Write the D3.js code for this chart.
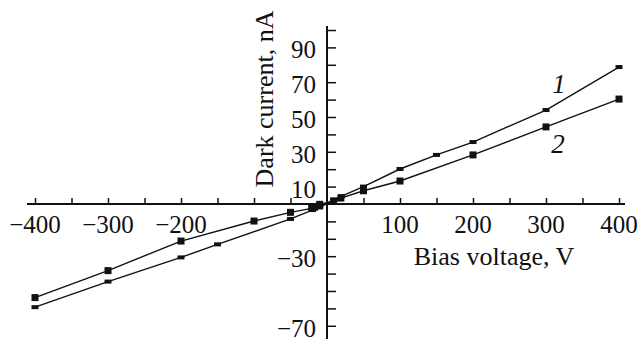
<!DOCTYPE html>
<html>
<head>
<meta charset="utf-8">
<script src="https://cdn.jsdelivr.net/npm/d3@7"></script>
<style>
  body { margin: 0; background: #fff; }
  text { font-family: "Liberation Serif", "Times New Roman", serif; fill: #111; }
</style>
</head>
<body>
<div id="chartContainer"></div>
<script>
// curve 1 (small markers)
var volt1 = [-400, -300, -200, -150, -50, -20, -10, 10, 20, 50, 100, 150, 200, 300, 400]
var cur1  = [-59.3, -44.6, -30.7, -23.2, -8.6, -3.5, -2, 2.5, 4.5, 10, 20.1, 28.2, 35.6, 54, 78.7]
// curve 2 (big markers)
var volt2 = [-400, -300, -200, -100, -50, -21, -17, -10, 9, 19, 50, 100, 200, 300, 400]
var cur2  = [-53.8, -38.3, -21.3, -9.8, -4.8, -2.5, -1.9, -0.2, 1.7, 3.4, 7.6, 13.2, 28.2, 44.3, 60.3]

var xTickLabels = [-400, -300, -200, 100, 200, 300, 400]
var yTickLabels = [90, 70, 50, 30, 10, -30, -70]

var width = 642, height = 343

var svg = d3.select('#chartContainer').append('svg')
    .attr('width', width)
    .attr('height', height)

var xScale = d3.scaleLinear().domain([-400, 400]).range([35, 619])
var yScale = d3.scaleLinear().domain([-77.6, 102.3]).range([339, 26])

var x0 = xScale(0), y0 = yScale(0)

function fmt(v) { return v < 0 ? '\u2212' + Math.abs(v) : '' + v }

// x axis: ticks every 50, pointing up
var xAxis = d3.axisTop(xScale)
    .tickValues(d3.range(-400, 401, 50).filter(function(d) { return d != 0 }))
    .tickSize(6)
    .tickFormat('')
var gx = svg.append('g').attr('transform', 'translate(0,' + y0 + ')').call(xAxis)
gx.select('.domain').remove()
gx.selectAll('line').attr('stroke', '#111').attr('stroke-width', 1.5)
gx.append('line')
    .attr('x1', 27).attr('x2', 625)
    .attr('stroke', '#111').attr('stroke-width', 2)

// y axis: ticks every 10, pointing right
var yAxis = d3.axisRight(yScale)
    .tickValues(d3.range(-70, 101, 10).filter(function(d) { return d != 0 }))
    .tickSize(9)
    .tickFormat('')
var gy = svg.append('g').attr('transform', 'translate(' + x0 + ',0)').call(yAxis)
gy.select('.domain').remove()
gy.selectAll('line').attr('stroke', '#111').attr('stroke-width', 1.5)
gy.append('line')
    .attr('y1', 26).attr('y2', 339)
    .attr('stroke', '#111').attr('stroke-width', 2)

// tick labels
svg.selectAll('.xlab')
    .data(xTickLabels)
    .enter()
    .append('text')
    .attr('class', 'xlab')
    .attr('x', function(d) { return xScale(d) })
    .attr('y', y0 + 29)
    .attr('text-anchor', 'middle')
    .style('font-size', '25px')
    .text(fmt)

svg.selectAll('.ylab')
    .data(yTickLabels)
    .enter()
    .append('text')
    .attr('class', 'ylab')
    .attr('x', x0 - 11)
    .attr('y', function(d) { return yScale(d) + 11 })
    .attr('text-anchor', 'end')
    .style('font-size', '25px')
    .text(fmt)

// axis titles
svg.append('text')
    .attr('transform', 'translate(273,99) rotate(-90)')
    .attr('text-anchor', 'middle')
    .style('font-size', '26px')
    .text('Dark current, nA')

svg.append('text')
    .attr('x', 494)
    .attr('y', 265)
    .attr('text-anchor', 'middle')
    .style('font-size', '26px')
    .text('Bias voltage, V')

// curves
var data1 = volt1.map(function(v, i) { return { v: v, c: cur1[i] } })
var data2 = volt2.map(function(v, i) { return { v: v, c: cur2[i] } })

var line = d3.line()
    .x(function(d) { return xScale(d.v) })
    .y(function(d) { return yScale(d.c) })

svg.append('path').datum(data1).attr('d', line)
    .attr('fill', 'none').attr('stroke', '#111').attr('stroke-width', 1.4)
svg.append('path').datum(data2).attr('d', line)
    .attr('fill', 'none').attr('stroke', '#111').attr('stroke-width', 1.4)

svg.selectAll('.m1')
    .data(data1)
    .enter()
    .append('rect')
    .attr('class', 'm1')
    .attr('x', function(d) { return xScale(d.v) - 3.5 })
    .attr('y', function(d) { return yScale(d.c) - 2 })
    .attr('width', 7)
    .attr('height', 4)
    .attr('fill', '#111')

svg.selectAll('.m2')
    .data(data2)
    .enter()
    .append('rect')
    .attr('class', 'm2')
    .attr('x', function(d) { return xScale(d.v) - 3.5 })
    .attr('y', function(d) { return yScale(d.c) - 3.5 })
    .attr('width', 7)
    .attr('height', 7)
    .attr('fill', '#111')

// curve labels
svg.append('text')
    .attr('x', 559).attr('y', 93)
    .attr('text-anchor', 'middle')
    .style('font-size', '27px').style('font-style', 'italic')
    .text('1')
svg.append('text')
    .attr('x', 558).attr('y', 153)
    .attr('text-anchor', 'middle')
    .style('font-size', '27px').style('font-style', 'italic')
    .text('2')
</script>
</body>
</html>
